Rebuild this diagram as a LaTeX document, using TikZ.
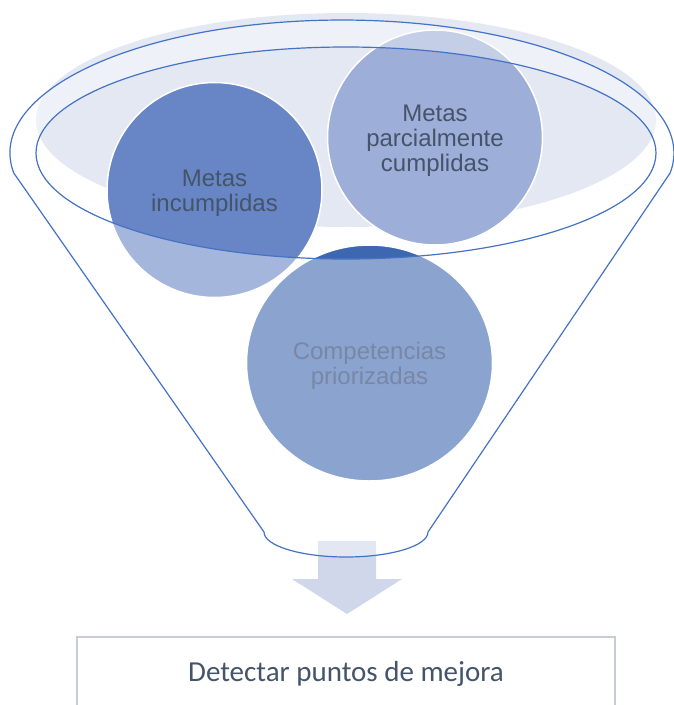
\documentclass[tikz,border=0pt]{standalone}
\usepackage{fontspec}
\usetikzlibrary{shapes.geometric}
\newfontfamily\arialf{Liberation Sans}
\newfontfamily\calif{Carlito}
\definecolor{bgc}{HTML}{E3E8F3}
\definecolor{incc}{HTML}{6886C5}
\definecolor{parc}{HTML}{9DAED8}
\definecolor{compc}{HTML}{3D67B0}
\definecolor{arrc}{HTML}{D0D7EB}
\definecolor{func}{HTML}{4472C4}
\definecolor{boxc}{HTML}{C8CCD9}
\definecolor{txtc}{HTML}{44546A}
\definecolor{comptxt}{HTML}{1F386A}
\tikzset{
  bubble/.style={circle, draw=white, line width=1.5pt, inner sep=0pt, outer sep=0pt},
  bubbletext/.style={align=center, inner sep=0pt, font=\arialf\fontsize{24}{25}\selectfont, text=txtc},
  funnelline/.style={draw=func, line width=1.2pt},
  boxstyle/.style={draw=boxc, line width=2pt, fill=white, inner sep=0pt,
    minimum width=538pt, minimum height=98pt},
}
\begin{document}
\begin{tikzpicture}[x=1pt,y=-1pt]
\useasboundingbox (0,0) rectangle (674,705);
\clip (0,0) rectangle (674,705);
% background ellipse
\fill[bgc] (346,120) ellipse[x radius=310, y radius=107];
% circles
\node[bubble, fill=incc, minimum size=215pt] (inc) at (214.5,190) {};
\node[bubble, fill=parc, minimum size=215pt] (par) at (435,137.5) {};
\node[bubble, ellipse, fill=compc, minimum width=246pt, minimum height=236pt] (comp) at (369.5,363) {};
\node[bubbletext, text=comptxt] (complbl) at ([yshift=-3pt]comp.center) {Competencias\\priorizadas};
% arrow
\fill[arrc] (318,541) -- (376,541) -- (376,579) -- (402,579) -- (347,614) -- (292,579) -- (318,579) -- cycle;
% funnel body overlay
\fill[white, fill opacity=0.4, even odd rule]
  (13.7,172.9) arc[start angle=171.4, end angle=368.6, x radius=332, y radius=133]
  -- (428,532) arc[start angle=0, end angle=180, x radius=82, y radius=25] -- cycle
  (346,153) ellipse[x radius=310, y radius=106];
% funnel outline
\draw[funnelline]
  (13.7,172.9) arc[start angle=171.4, end angle=368.6, x radius=332, y radius=133]
  -- (428,532) arc[start angle=0, end angle=180, x radius=82, y radius=25] -- cycle
  (346,153) ellipse[x radius=310, y radius=106];
% labels on top
\node[bubbletext] (inclbl) at ([yshift=-3pt]inc.center) {Metas\\incumplidas};
\node[bubbletext] (parlbl) at ([yshift=-3pt]par.center) {Metas\\parcialmente\\cumplidas};
% result box
\node[boxstyle] (box) at (346,686) {};
\node[font=\calif\fontsize{29}{34}\selectfont, text=txtc, anchor=base, inner sep=0pt] (boxtxt) at (346,681) {Detectar puntos de mejora};
\end{tikzpicture}
\end{document}
